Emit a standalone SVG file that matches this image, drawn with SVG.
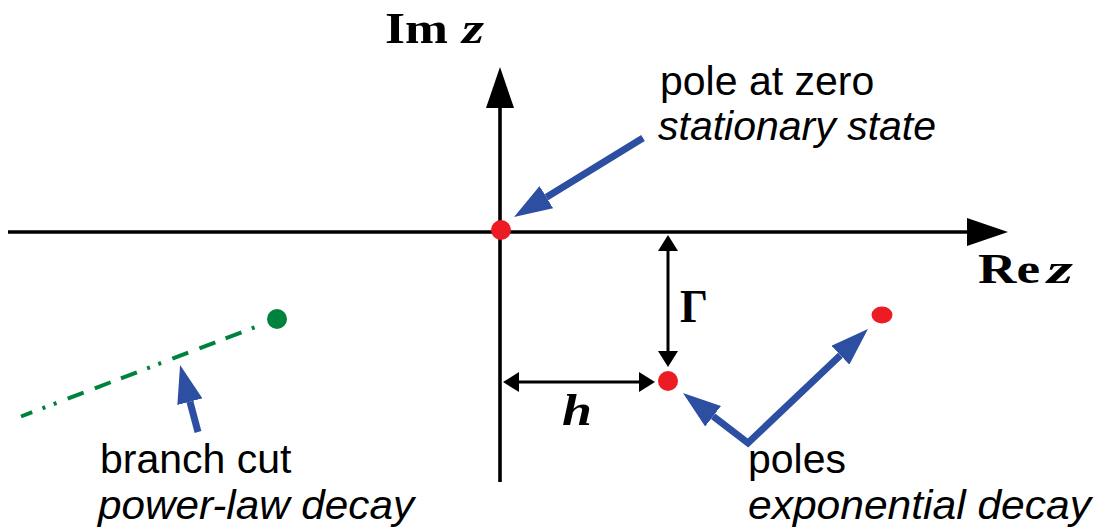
<svg xmlns="http://www.w3.org/2000/svg" width="1097" height="532" viewBox="0 0 1097 532">
<style>
.axis{stroke:#000;stroke-width:3.6;fill:none}
.dim{stroke:#000;stroke-width:3;fill:none;marker-start:url(#dimHead);marker-end:url(#dimHead)}
.blue{stroke:#2D4FA1;stroke-width:7;fill:none;stroke-linejoin:miter;stroke-miterlimit:10}
.pole{fill:#ED1C24}
.math{font-family:"Liberation Serif","DejaVu Serif",serif;font-weight:bold;fill:#000}
.lbl{font-family:"Liberation Sans",Arial,sans-serif;font-size:41px;fill:#000}
.it{font-style:italic}
</style>
<defs>
<marker id="blueHead" viewBox="0 0 38 26" refX="0" refY="13" markerWidth="38" markerHeight="26" markerUnits="userSpaceOnUse" orient="auto-start-reverse">
<path d="M0,0 L38,13 L0,26 z" fill="#2D4FA1"/>
</marker>
<marker id="dimHead" viewBox="0 0 16 20" refX="0" refY="10" markerWidth="16" markerHeight="20" markerUnits="userSpaceOnUse" orient="auto-start-reverse">
<path d="M0,0 L16,10 L0,20 z" fill="#000"/>
</marker>
<marker id="axisHead" viewBox="0 0 41 28" refX="0" refY="14" markerWidth="41" markerHeight="28" markerUnits="userSpaceOnUse" orient="auto">
<path d="M0,0 L41,14 L0,28 z" fill="#000"/>
</marker>
</defs>

<g id="axes">
<line class="axis" x1="8" y1="232" x2="967" y2="232" marker-end="url(#axisHead)"/>
<line class="axis" x1="500" y1="482" x2="500" y2="108" marker-end="url(#axisHead)"/>
<text class="math" x="385" y="43" font-size="45" textLength="63" lengthAdjust="spacingAndGlyphs">Im</text>
<text class="math it" x="462" y="43" font-size="45" textLength="22" lengthAdjust="spacingAndGlyphs">z</text>
<text class="math" x="978" y="283" font-size="42" textLength="62" lengthAdjust="spacingAndGlyphs">Re</text>
<text class="math it" x="1047" y="283" font-size="42" textLength="26" lengthAdjust="spacingAndGlyphs">z</text>
</g>

<g id="connectors">
<line class="blue" x1="643" y1="138" x2="546.4" y2="197.2" marker-end="url(#blueHead)"/>
<line class="blue" x1="198" y1="432" x2="189.9" y2="401.7" marker-end="url(#blueHead)"/>
<polyline class="blue" points="713.1,416.2 748,443 840.4,355.2" marker-start="url(#blueHead)" marker-end="url(#blueHead)"/>
<line class="dim" x1="668" y1="251" x2="668" y2="351"/>
<line class="dim" x1="519" y1="382" x2="639" y2="382"/>
</g>

<g id="branch-cut">
<line x1="21" y1="416.5" x2="258" y2="326" stroke="#00823F" stroke-width="4" stroke-dasharray="17 12 17 11 17 11 3 9 3 12" stroke-dashoffset="62"/>
<circle cx="277" cy="319" r="10" fill="#00823F"/>
</g>

<g id="pole-zero"><circle class="pole" cx="501" cy="230" r="10"/></g>
<g id="pole-1"><circle class="pole" cx="668" cy="381" r="10"/></g>
<g id="pole-2"><ellipse class="pole" cx="882" cy="315" rx="10.5" ry="8.5"/></g>

<g id="dim-labels">
<text class="math" x="680" y="322" font-size="46" textLength="28" lengthAdjust="spacingAndGlyphs">Γ</text>
<text class="math it" x="562" y="425" font-size="45" textLength="30" lengthAdjust="spacingAndGlyphs">h</text>
</g>

<g id="label-pole-zero">
<text class="lbl" x="660" y="95">pole at zero</text>
<text class="lbl it" x="658" y="140">stationary state</text>
</g>
<g id="label-branch">
<text class="lbl" x="100" y="473">branch cut</text>
<text class="lbl it" x="98" y="519" textLength="316" lengthAdjust="spacingAndGlyphs">power-law decay</text>
</g>
<g id="label-poles">
<text class="lbl" x="748" y="473">poles</text>
<text class="lbl it" x="748" y="519" textLength="343" lengthAdjust="spacingAndGlyphs">exponential decay</text>
</g>
</svg>
